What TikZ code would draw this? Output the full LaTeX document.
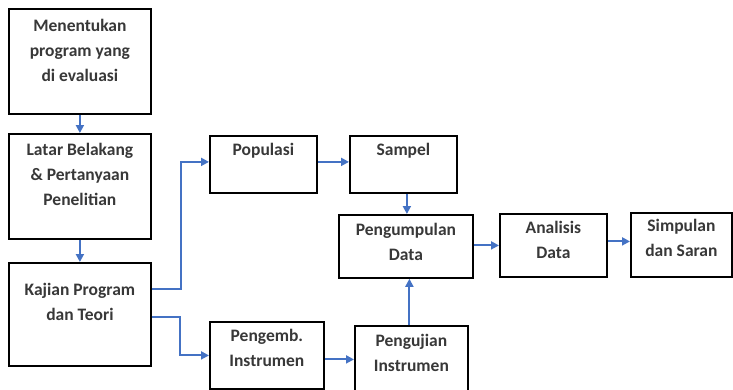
\documentclass[tikz,border=0pt]{standalone}
\usepackage{fontspec}
\setmainfont{Carlito}
\usetikzlibrary{arrows.meta}
\definecolor{flowblue}{HTML}{4472C4}
\tikzset{
  stage/.style={draw=black, line width=1.8pt, rectangle, inner sep=0pt, anchor=north west},
  caption/.style={anchor=north, align=center, font=\bfseries\fontsize{17.5}{25}\selectfont, text=black!78},
  flow/.style={draw=flowblue, line width=1.9pt, -{Triangle[length=8pt,width=8pt]}}
}
\newcommand{\stagebox}[7]{%
  % #1 name, #2 x, #3 y, #4 width, #5 height, #6 text offset, #7 text
  \node[stage, minimum width=#4pt, minimum height=#5pt,
        label={[caption, yshift=-#6pt]north:#7}] (#1) at (#2,#3) {};}
\begin{document}
\begin{tikzpicture}[x=1pt, y=-1pt]
  \useasboundingbox (0,0) rectangle (733,389);
  \fill[white] (0,0) rectangle (733,389);

  \stagebox{tentukan}{8}{8}{142}{105}{8}{Menentukan\\program yang\\di evaluasi}
  \stagebox{latar}{8}{133}{142}{105}{7}{Latar Belakang\\\& Pertanyaan\\Penelitian}
  \stagebox{kajian}{8}{262}{142}{103}{18}{Kajian Program\\dan Teori}
  \stagebox{populasi}{209}{135}{107}{57}{5}{Populasi}
  \stagebox{sampel}{349}{135}{107}{57}{5}{Sampel}
  \stagebox{kumpul}{338}{214}{134}{63}{6}{Pengumpulan\\Data}
  \stagebox{pengemb}{209}{321}{114}{67}{5}{Pengemb.\\Instrumen}
  \stagebox{uji}{354}{325}{113}{70}{6}{Pengujian\\Instrumen}
  \stagebox{analisis}{499}{213}{107}{63}{5}{Analisis\\Data}
  \stagebox{simpulan}{630}{212}{101}{64}{4}{Simpulan\\dan Saran}

  \draw[flow] (tentukan.south) -- (latar.north);
  \draw[flow] (latar.south) -- (kajian.north);
  \draw[flow] ([yshift=-27pt]kajian.north east) -- ++(29,0) |- ([yshift=2.5pt]populasi.west);
  \draw[flow] ([yshift=-55pt]kajian.north east) -- ++(28,0) |- (pengemb.west);
  \draw[flow] ([yshift=2.5pt]populasi.east) -- ([yshift=2.5pt]sampel.west);
  \draw[flow] ([xshift=1pt]sampel.south -| kumpul.north) -- ([xshift=1pt]kumpul.north);
  \draw[flow] ([xshift=-2pt]uji.north) -- ([xshift=-2pt]uji.north |- kumpul.south);
  \draw[flow] ([yshift=-4pt]pengemb.east) -- ([yshift=-4pt]pengemb.east -| uji.west);
  \draw[flow] ([yshift=1pt]kumpul.east) -- ([yshift=1pt]kumpul.east -| analisis.west);
  \draw[flow] ([yshift=4pt]analisis.east) -- ([yshift=4pt]analisis.east -| simpulan.west);
\end{tikzpicture}
\end{document}
